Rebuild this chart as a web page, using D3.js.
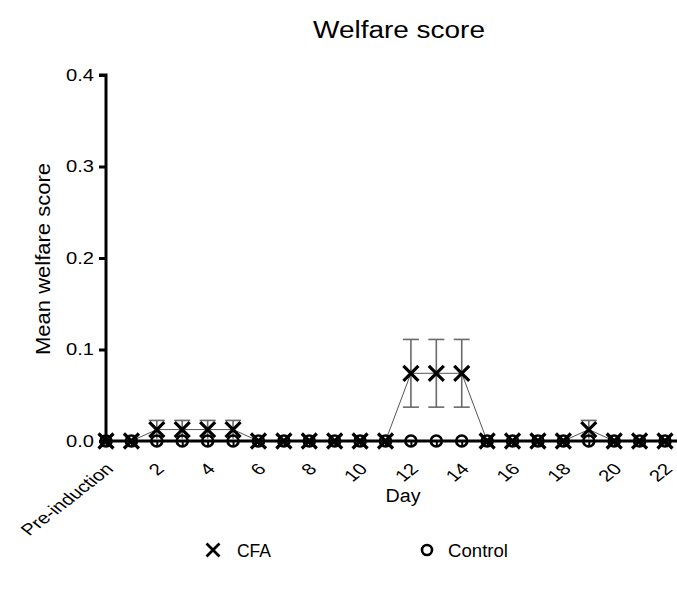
<!DOCTYPE html>
<html><head><meta charset="utf-8">
<script src="https://cdn.jsdelivr.net/npm/d3@7"></script>
<style>body{margin:0;background:#fff}svg{display:block}text{font-family:"Liberation Sans",Arial,sans-serif;fill:#000}</style>
</head><body><svg id="c" width="677" height="589"></svg>
<script>
const categories = ["Pre-induction","1","2","3","4","5","6","7","8","9","10","11","12","13","14","15","16","17","18","19","20","21","22"];
const tickLabels = ["Pre-induction","","2","","4","","6","","8","","10","","12","","14","","16","","18","","20","","22"];
const cfaMean = [0,0,0.0125,0.0125,0.0125,0.0125,0,0,0,0,0,0,0.074,0.074,0.074,0,0,0,0,0.0125,0,0,0];
const cfaErr  = [0,0,0.01,0.01,0.01,0.01,0,0,0,0,0,0,0.037,0.037,0.037,0,0,0,0,0.01,0,0,0];
const controlMean = [0,0,0,0,0,0,0,0,0,0,0,0,0,0,0,0,0,0,0,0,0,0,0];
const yTicks = [0,0.1,0.2,0.3,0.4];

const svg = d3.select("#c");
const x = d3.scalePoint().domain(categories).range([106, 665]);
const y = d3.scaleLinear().domain([0,0.4]).range([441, 75]);

// title
svg.append("text").attr("x",399).attr("y",38).attr("text-anchor","middle").attr("font-size",23)
  .attr("textLength",172).attr("lengthAdjust","spacingAndGlyphs").text("Welfare score");
// y label
svg.append("text").attr("transform","translate(50,259) rotate(-90)").attr("text-anchor","middle").attr("font-size",20)
  .attr("textLength",192).attr("lengthAdjust","spacingAndGlyphs").text("Mean welfare score");
// x label
svg.append("text").attr("x",403).attr("y",502).attr("text-anchor","middle").attr("font-size",18)
  .attr("textLength",35).attr("lengthAdjust","spacingAndGlyphs").text("Day");

// y axis
const ya = svg.append("g").attr("transform","translate(106,0)")
  .call(d3.axisLeft(y).tickValues(yTicks).tickFormat(d3.format(".1f")).tickSize(7).tickPadding(5));
ya.select(".domain").attr("stroke","#000").attr("stroke-width",3).attr("d","M-7,75H0V441");
ya.selectAll(".tick line").attr("stroke","#000").attr("stroke-width",3);
ya.selectAll(".tick text").attr("font-size",16).attr("fill","#000").attr("font-family","Liberation Sans, Arial, sans-serif")
  .attr("textLength",28).attr("lengthAdjust","spacingAndGlyphs");

// x axis
const xa = svg.append("g").attr("transform","translate(0,441)")
  .call(d3.axisBottom(x).tickFormat((d,i)=>tickLabels[i]).tickSize(6).tickPadding(0));
xa.select(".domain").attr("stroke","#000").attr("stroke-width",3).attr("d","M106,0H677");
xa.selectAll(".tick line").attr("stroke","#000").attr("stroke-width",2);
xa.selectAll(".tick text").attr("font-size",16).attr("fill","#000").attr("font-family","Liberation Sans, Arial, sans-serif")
  .attr("text-anchor","end").attr("transform","translate(3,25) scale(1.28,1) rotate(-45)").attr("dy","0.35em").attr("y",0).attr("x",0);

// CFA line
const line = d3.line().x((d,i)=>x(categories[i])).y(d=>y(d));
svg.append("path").datum(cfaMean).attr("d",line).attr("fill","none").attr("stroke","#555").attr("stroke-width",1);
// control line
svg.append("path").datum(controlMean).attr("d",line).attr("fill","none").attr("stroke","#000").attr("stroke-width",2);

// error bars
const eb = svg.append("g").attr("stroke","#6a6a6a").attr("stroke-width",1.6);
cfaMean.forEach((m,i)=>{
  if(cfaErr[i]<=0) return;
  const cx = x(categories[i]);
  eb.append("line").attr("x1",cx).attr("x2",cx).attr("y1",y(m+cfaErr[i])).attr("y2",y(Math.max(0,m-cfaErr[i])));
  eb.append("line").attr("x1",cx-8).attr("x2",cx+8).attr("y1",y(m+cfaErr[i])).attr("y2",y(m+cfaErr[i]));
  if(m-cfaErr[i]>0.005) eb.append("line").attr("x1",cx-8).attr("x2",cx+8).attr("y1",y(m-cfaErr[i])).attr("y2",y(m-cfaErr[i]));
});

// control markers
controlMean.forEach((m,i)=>{
  svg.append("circle").attr("cx",x(categories[i])).attr("cy",y(m)).attr("r",5.5)
    .attr("fill","none").attr("stroke","#000").attr("stroke-width",2.6);
});
// CFA markers
const xs = 7.5;
cfaMean.forEach((m,i)=>{
  const cx = x(categories[i]), cy = y(m);
  svg.append("path").attr("d",`M${cx-xs},${cy-xs}L${cx+xs},${cy+xs}M${cx-xs},${cy+xs}L${cx+xs},${cy-xs}`)
    .attr("stroke","#000").attr("stroke-width",3.2).attr("fill","none");
});

// legend
const lx = 213, ly = 550;
svg.append("path").attr("d",`M${lx-6.5},${ly-6.5}L${lx+6.5},${ly+6.5}M${lx-6.5},${ly+6.5}L${lx+6.5},${ly-6.5}`).attr("stroke","#000").attr("stroke-width",2.8);
svg.append("text").attr("x",237).attr("y",557).attr("font-size",18).attr("textLength",34).attr("lengthAdjust","spacingAndGlyphs").text("CFA");
svg.append("circle").attr("cx",427).attr("cy",ly).attr("r",5).attr("fill","none").attr("stroke","#000").attr("stroke-width",2.6);
svg.append("text").attr("x",448).attr("y",557).attr("font-size",18).attr("textLength",60).attr("lengthAdjust","spacingAndGlyphs").text("Control");
</script></body></html>
